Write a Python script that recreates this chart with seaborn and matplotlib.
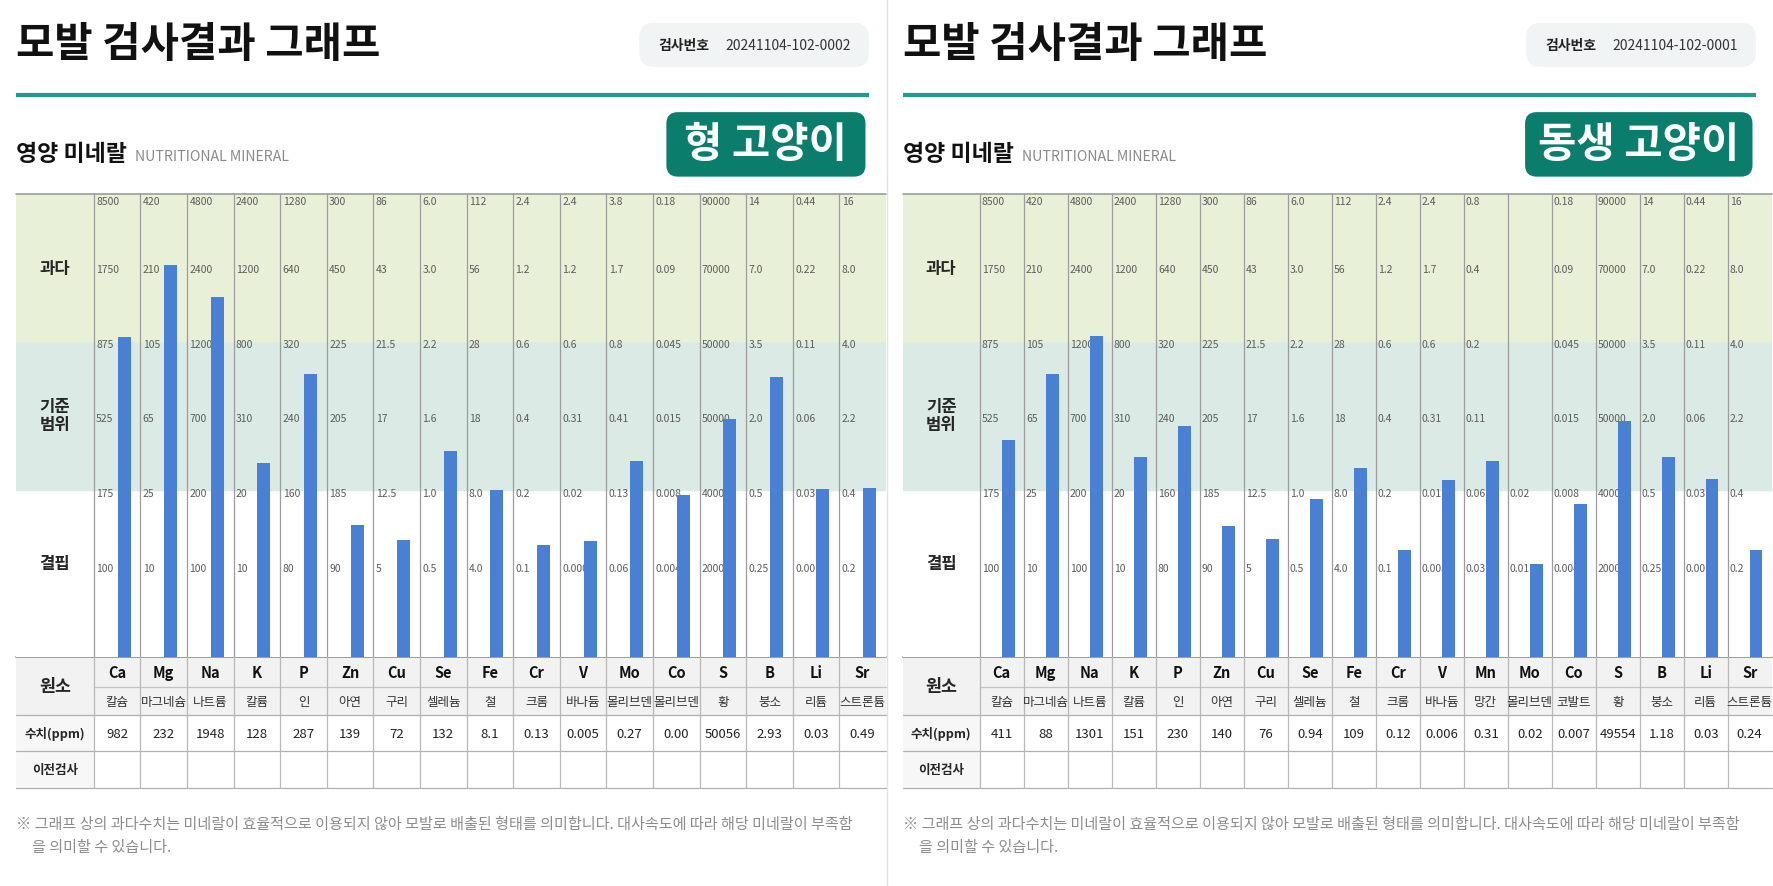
import numpy as np
import matplotlib.pyplot as plt
import seaborn as sns
from matplotlib.patches import FancyBboxPatch, Rectangle

sns.set_theme(style='white')
plt.rcParams['font.family'] = ['Noto Sans CJK KR', 'DejaVu Sans']
plt.rcParams['axes.unicode_minus'] = False

# ---------------- data: 형 고양이 ----------------
symbols_a = ['Ca', 'Mg', 'Na', 'K', 'P', 'Zn', 'Cu', 'Se', 'Fe', 'Cr', 'V', 'Mo', 'Co', 'S', 'B', 'Li', 'Sr']
names_a = ['칼슘', '마그네슘', '나트륨', '칼륨', '인', '아연', '구리', '셀레늄', '철', '크롬', '바나듐',
           '몰리브덴', '몰리브덴', '황', '붕소', '리튬', '스트론튬']
ppm_a = ['982', '232', '1948', '128', '287', '139', '72', '132', '8.1', '0.13', '0.005', '0.27', '0.00',
         '50056', '2.93', '0.03', '0.49']
# bar height on the grade scale (1 = 결핍 mid, 2 = 기준 low, 4 = 과다 low, 6 = top)
grade_a = [4.05, 5.02, 4.58, 2.36, 3.55, 1.53, 1.33, 2.53, 2.00, 1.26, 1.32, 2.39, 1.94, 2.95, 3.51, 2.02, 2.03]
# scale labels per element, from grade 1 up to grade 6
scale_a = [
    ['100', '175', '525', '875', '1750', '8500'],
    ['10', '25', '65', '105', '210', '420'],
    ['100', '200', '700', '1200', '2400', '4800'],
    ['10', '20', '310', '800', '1200', '2400'],
    ['80', '160', '240', '320', '640', '1280'],
    ['90', '185', '205', '225', '450', '300'],
    ['5', '12.5', '17', '21.5', '43', '86'],
    ['0.5', '1.0', '1.6', '2.2', '3.0', '6.0'],
    ['4.0', '8.0', '18', '28', '56', '112'],
    ['0.1', '0.2', '0.4', '0.6', '1.2', '2.4'],
    ['0.000', '0.02', '0.31', '0.6', '1.2', '2.4'],
    ['0.06', '0.13', '0.41', '0.8', '1.7', '3.8'],
    ['0.004', '0.008', '0.015', '0.045', '0.09', '0.18'],
    ['20000', '40000', '50000', '50000', '70000', '90000'],
    ['0.25', '0.5', '2.0', '3.5', '7.0', '14'],
    ['0.00', '0.03', '0.06', '0.11', '0.22', '0.44'],
    ['0.2', '0.4', '2.2', '4.0', '8.0', '16'],
]

# ---------------- data: 동생 고양이 ----------------
symbols_b = ['Ca', 'Mg', 'Na', 'K', 'P', 'Zn', 'Cu', 'Se', 'Fe', 'Cr', 'V', 'Mn', 'Mo', 'Co', 'S', 'B', 'Li', 'Sr']
names_b = ['칼슘', '마그네슘', '나트륨', '칼륨', '인', '아연', '구리', '셀레늄', '철', '크롬', '바나듐', '망간',
           '몰리브덴', '코발트', '황', '붕소', '리튬', '스트론튬']
ppm_b = ['411', '88', '1301', '151', '230', '140', '76', '0.94', '109', '0.12', '0.006', '0.31', '0.02',
         '0.007', '49554', '1.18', '0.03', '0.24']
grade_b = [2.67, 3.56, 4.06, 2.44, 2.86, 1.52, 1.34, 1.88, 2.29, 1.20, 2.13, 2.39, 1.01, 1.81, 2.93, 2.45, 2.15, 1.20]
scale_b = [
    ['100', '175', '525', '875', '1750', '8500'],
    ['10', '25', '65', '105', '210', '420'],
    ['100', '200', '700', '1200', '2400', '4800'],
    ['10', '20', '310', '800', '1200', '2400'],
    ['80', '160', '240', '320', '640', '1280'],
    ['90', '185', '205', '225', '450', '300'],
    ['5', '12.5', '17', '21.5', '43', '86'],
    ['0.5', '1.0', '1.6', '2.2', '3.0', '6.0'],
    ['4.0', '8.0', '18', '28', '56', '112'],
    ['0.1', '0.2', '0.4', '0.6', '1.2', '2.4'],
    ['0.005', '0.01', '0.31', '0.6', '1.7', '2.4'],
    ['0.03', '0.06', '0.11', '0.2', '0.4', '0.8'],
    ['0.01', '0.02', '', '', '', ''],
    ['0.004', '0.008', '0.015', '0.045', '0.09', '0.18'],
    ['20000', '40000', '50000', '50000', '70000', '90000'],
    ['0.25', '0.5', '2.0', '3.5', '7.0', '14'],
    ['0.00', '0.03', '0.06', '0.11', '0.22', '0.44'],
    ['0.2', '0.4', '2.2', '4.0', '8.0', '16'],
]

TITLE = '모발 검사결과 그래프'
NOTE1 = '※ 그래프 상의 과다수치는 미네랄이 효율적으로 이용되지 않아 모발로 배출된 형태를 의미합니다. 대사속도에 따라 해당 미네랄이 부족함'
NOTE2 = '을 의미할 수 있습니다.'

# colours
TEAL_LINE = '#1f9c8d'
TEAL_BOX = '#0b7d6d'
BLUE = '#4a80d3'
YELLOW = '#e9f0d8'
MINT = '#dbeae4'
GRID = '#9c9c9c'
CELL = '#f2f2f2'

# layout in a 1568 x 784 canvas
W, H = 1568, 784
BASE = 0.24          # grade scale floor below grade 0
TOP = 5.97 + BASE
CHART_T, CHART_B = 172, 582
ROWS = [582, 608, 633, 665, 697]

panels = [
    dict(ox=14, label_w=69, right=783, box_w=176, cat='형 고양이', exam='20241104-102-0002',
         symbols=symbols_a, names=names_a, ppm=ppm_a, grade=grade_a, scale=scale_a),
    dict(ox=798, label_w=68, right=1566, box_w=201, cat='동생 고양이', exam='20241104-102-0001',
         symbols=symbols_b, names=names_b, ppm=ppm_b, grade=grade_b, scale=scale_b),
]

fig = plt.figure(figsize=(17.74, 8.87), dpi=100, facecolor='white')
bg = fig.add_axes([0, 0, 1, 1])
bg.set_xlim(0, W)
bg.set_ylim(H, 0)
bg.axis('off')

# panel divider
bg.plot([784, 784], [0, H], color='#e3e3e3', lw=1)

for p in panels:
    ox = p['ox']
    n = len(p['symbols'])
    label_r = ox + p['label_w']
    cw = (p['right'] - label_r) / n

    # header
    bg.text(ox, 40, TITLE, fontsize=30, fontweight='bold', va='center', ha='left', color='#111111')
    bg.add_patch(FancyBboxPatch((ox + 551, 21), 203, 39, boxstyle='round,pad=0,rounding_size=13',
                                fc='#f1f4f4', ec='none'))
    bg.text(ox + 568, 41, '검사번호', fontsize=10, fontweight='bold', va='center', color='#222222')
    bg.text(ox + 627, 41, p['exam'], fontsize=10, va='center', color='#333333')
    bg.plot([ox, ox + 754], [85, 85], color=TEAL_LINE, lw=3, solid_capstyle='butt')

    bg.text(ox, 137, '영양 미네랄', fontsize=16.5, fontweight='bold', va='center', color='#111111')
    bg.text(ox + 105, 139, 'NUTRITIONAL MINERAL', fontsize=10.2, va='center', color='#8a8a8a')
    bx = ox + 751 - p['box_w']
    bg.add_patch(FancyBboxPatch((bx, 100), p['box_w'], 57, boxstyle='round,pad=0,rounding_size=10',
                                fc=TEAL_BOX, ec='none'))
    bg.text(bx + p['box_w'] / 2, 128, p['cat'], fontsize=30, fontweight='bold', color='white',
            ha='center', va='center')

    # chart
    ax = fig.add_axes([ox / W, 1 - CHART_B / H, (p['right'] - ox) / W, (CHART_B - CHART_T) / H])
    sns.barplot(x=p['symbols'], y=np.array(p['grade']) + BASE, order=p['symbols'], ax=ax,
                color=BLUE, saturation=1, width=0.28, zorder=3)
    for bar in ax.containers[0]:
        bar.set_x(bar.get_x() + 0.15)
        bar.set_edgecolor('none')
    x_left = -0.5 - p['label_w'] / cw
    ax.axhspan(0, 2 + BASE, color='white', zorder=0)
    ax.axhspan(2 + BASE, 4 + BASE, color=MINT, zorder=0)
    ax.axhspan(4 + BASE, TOP, color=YELLOW, zorder=0)
    ax.set_xlim(x_left, n - 0.5)
    ax.set_ylim(0, TOP)
    for xb in np.arange(-0.5, n - 0.5, 1.0):
        ax.axvline(xb, color=GRID, lw=0.9, zorder=1)
    ax.axhline(TOP, color=GRID, lw=1.2, zorder=1, clip_on=False)
    for i, labels in enumerate(p['scale']):
        for k, lab in enumerate(labels, start=1):
            ax.text(i - 0.5 + 0.05, min(k + BASE + 0.03, TOP - 0.03), lab, fontsize=7.5, color='#5c5c5c',
                    ha='left', va='top', zorder=2)
    xc = (x_left - 0.5) / 2
    ax.text(xc, 4.98 + BASE, '과다', fontsize=12, fontweight='bold', ha='center', va='center')
    ax.text(xc, 3.0 + BASE, '기준\n범위', fontsize=12, fontweight='bold', ha='center', va='center',
            linespacing=1.0)
    ax.text(xc, 1.03 + BASE, '결핍', fontsize=12, fontweight='bold', ha='center', va='center')
    ax.set_xticks([])
    ax.set_yticks([])
    ax.set_xlabel('')
    ax.set_ylabel('')
    for s in ax.spines.values():
        s.set_visible(False)

    # table below the chart
    bg.add_patch(Rectangle((ox, ROWS[0]), p['right'] - ox, ROWS[2] - ROWS[0], fc=CELL, ec='none', zorder=0))
    bg.add_patch(Rectangle((ox, ROWS[2]), p['label_w'], ROWS[4] - ROWS[2], fc='#f7f7f7', ec='none', zorder=0))
    bg.plot([ox, p['right']], [ROWS[0], ROWS[0]], color='#8c8c8c', lw=1.2)
    bg.plot([label_r, p['right']], [ROWS[1], ROWS[1]], color='#c4c4c4', lw=0.9)
    for yy in ROWS[2:]:
        bg.plot([ox, p['right']], [yy, yy], color='#b0b0b0', lw=0.9)
    for i in range(n + 1):
        xb = label_r + i * cw
        if xb < p['right'] - 1:
            bg.plot([xb, xb], [ROWS[0], ROWS[4]], color='#b8b8b8', lw=0.9)

    lx = ox + p['label_w'] / 2
    bg.text(lx, (ROWS[0] + ROWS[2]) / 2, '원소', fontsize=12.5, fontweight='bold', ha='center', va='center')
    bg.text(lx, (ROWS[2] + ROWS[3]) / 2, '수치(ppm)', fontsize=9, fontweight='bold', ha='center', va='center')
    bg.text(lx, (ROWS[3] + ROWS[4]) / 2, '이전검사', fontsize=9, fontweight='bold', ha='center', va='center')
    for i in range(n):
        cx = label_r + (i + 0.5) * cw
        bg.text(cx, (ROWS[0] + ROWS[1]) / 2, p['symbols'][i], fontsize=10.5, fontweight='bold',
                ha='center', va='center', color='#111111')
        bg.text(cx, (ROWS[1] + ROWS[2]) / 2, p['names'][i], fontsize=9, ha='center', va='center',
                color='#333333')
        bg.text(cx, (ROWS[2] + ROWS[3]) / 2, p['ppm'][i], fontsize=9.5, ha='center', va='center',
                color='#222222')

    # footnote
    bg.text(ox, 729, NOTE1, fontsize=10.9, color='#8c8c8c', va='center')
    bg.text(ox + 14, 749, NOTE2, fontsize=10.9, color='#8c8c8c', va='center')

fig.savefig('out.png', dpi=100, facecolor='white')
